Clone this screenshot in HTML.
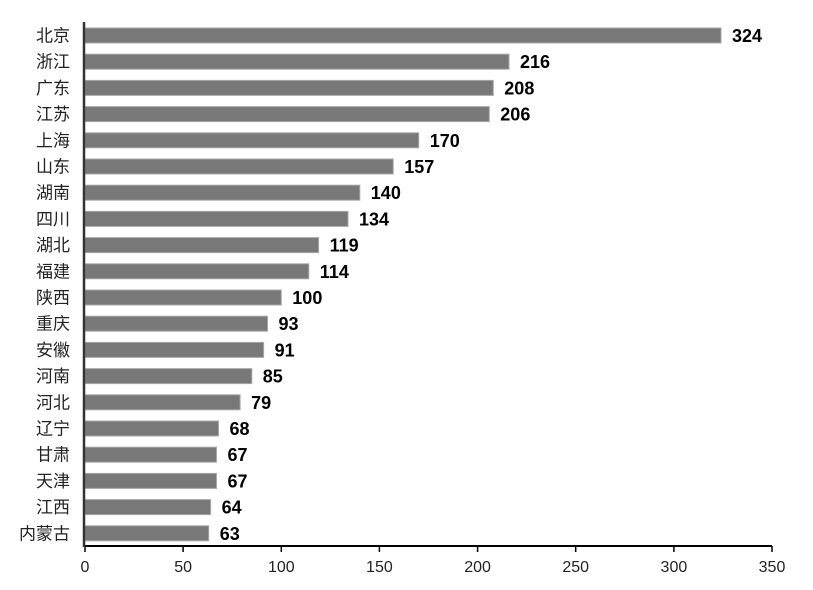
<!DOCTYPE html><html><head><meta charset="utf-8"><style>body{margin:0;background:#fff}svg{display:block}</style></head><body>
<svg width="813" height="590" xmlns="http://www.w3.org/2000/svg" font-family="Liberation Sans, Noto Sans CJK SC, sans-serif">
<g fill="#787878" stroke="#a8a8a8" stroke-width="1">
<rect x="85" y="28" width="636" height="15"/>
<rect x="85" y="54.2" width="424" height="15"/>
<rect x="85" y="80.4" width="408.3" height="15"/>
<rect x="85" y="106.6" width="404.3" height="15"/>
<rect x="85" y="132.8" width="333.7" height="15"/>
<rect x="85" y="159" width="308.2" height="15"/>
<rect x="85" y="185.2" width="274.8" height="15"/>
<rect x="85" y="211.4" width="263" height="15"/>
<rect x="85" y="237.6" width="233.6" height="15"/>
<rect x="85" y="263.8" width="223.8" height="15"/>
<rect x="85" y="290" width="196.3" height="15"/>
<rect x="85" y="316.2" width="182.5" height="15"/>
<rect x="85" y="342.4" width="178.6" height="15"/>
<rect x="85" y="368.6" width="166.8" height="15"/>
<rect x="85" y="394.8" width="155.1" height="15"/>
<rect x="85" y="421" width="133.5" height="15"/>
<rect x="85" y="447.2" width="131.5" height="15"/>
<rect x="85" y="473.4" width="131.5" height="15"/>
<rect x="85" y="499.6" width="125.6" height="15"/>
<rect x="85" y="525.8" width="123.7" height="15"/>
</g>
<g font-size="17" text-anchor="end" fill="#222">
<text x="70" y="41.5">北京</text>
<text x="70" y="67.7">浙江</text>
<text x="70" y="93.9">广东</text>
<text x="70" y="120.1">江苏</text>
<text x="70" y="146.3">上海</text>
<text x="70" y="172.5">山东</text>
<text x="70" y="198.7">湖南</text>
<text x="70" y="224.9">四川</text>
<text x="70" y="251.1">湖北</text>
<text x="70" y="277.3">福建</text>
<text x="70" y="303.5">陕西</text>
<text x="70" y="329.7">重庆</text>
<text x="70" y="355.9">安徽</text>
<text x="70" y="382.1">河南</text>
<text x="70" y="408.3">河北</text>
<text x="70" y="434.5">辽宁</text>
<text x="70" y="460.7">甘肃</text>
<text x="70" y="486.9">天津</text>
<text x="70" y="513.1">江西</text>
<text x="70" y="539.3">内蒙古</text>
</g>
<g font-size="18" font-weight="bold" fill="#000">
<text x="732" y="42">324</text>
<text x="520" y="68.2">216</text>
<text x="504.3" y="94.4">208</text>
<text x="500.3" y="120.6">206</text>
<text x="429.7" y="146.8">170</text>
<text x="404.2" y="173">157</text>
<text x="370.8" y="199.2">140</text>
<text x="359" y="225.4">134</text>
<text x="329.6" y="251.6">119</text>
<text x="319.8" y="277.8">114</text>
<text x="292.3" y="304">100</text>
<text x="278.5" y="330.2">93</text>
<text x="274.6" y="356.4">91</text>
<text x="262.8" y="382.6">85</text>
<text x="251.1" y="408.8">79</text>
<text x="229.5" y="435">68</text>
<text x="227.5" y="461.2">67</text>
<text x="227.5" y="487.4">67</text>
<text x="221.6" y="513.6">64</text>
<text x="219.7" y="539.8">63</text>
</g>
<g stroke="#000" stroke-width="1.5">
<line x1="85" y1="546" x2="85" y2="552"/>
<line x1="183.1" y1="546" x2="183.1" y2="552"/>
<line x1="281.3" y1="546" x2="281.3" y2="552"/>
<line x1="379.4" y1="546" x2="379.4" y2="552"/>
<line x1="477.6" y1="546" x2="477.6" y2="552"/>
<line x1="575.7" y1="546" x2="575.7" y2="552"/>
<line x1="673.9" y1="546" x2="673.9" y2="552"/>
<line x1="772" y1="546" x2="772" y2="552"/>
</g>
<g font-size="16" text-anchor="middle" fill="#222">
<text x="85" y="572">0</text>
<text x="183.1" y="572">50</text>
<text x="281.3" y="572">100</text>
<text x="379.4" y="572">150</text>
<text x="477.6" y="572">200</text>
<text x="575.7" y="572">250</text>
<text x="673.9" y="572">300</text>
<text x="772" y="572">350</text>
</g>
<line x1="84" y1="546" x2="772" y2="546" stroke="#000" stroke-width="2"/>
<line x1="84" y1="22" x2="84" y2="547" stroke="#333" stroke-width="2.5"/>
</svg></body></html>
